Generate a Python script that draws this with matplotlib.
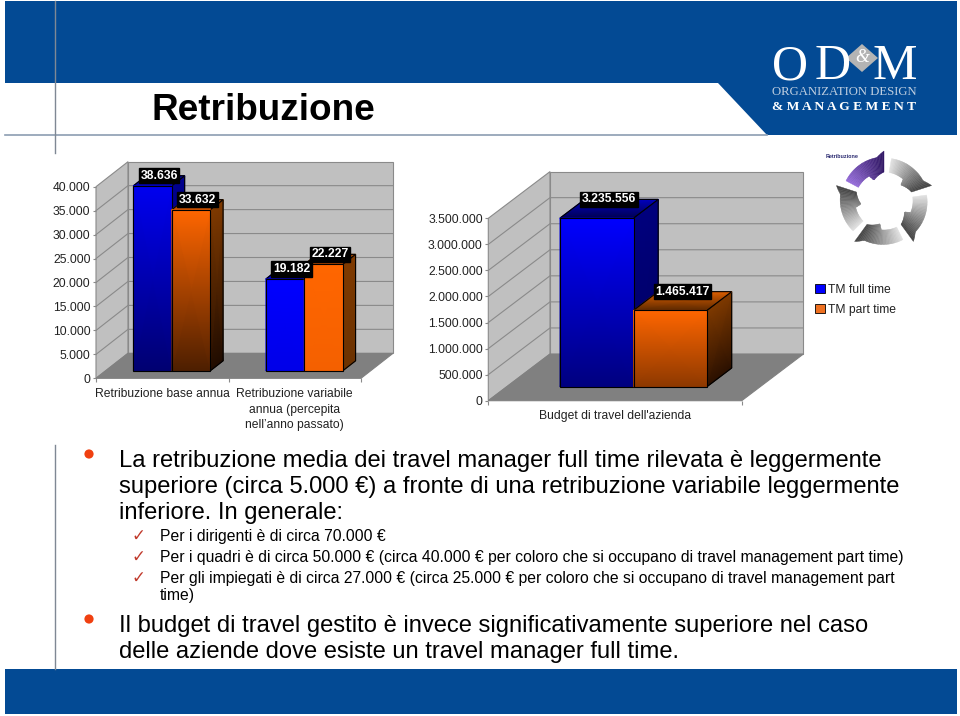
import matplotlib
matplotlib.use('Agg')
import matplotlib.pyplot as plt
import numpy as np
from matplotlib.colors import LinearSegmentedColormap
from matplotlib.patches import Polygon, Circle, Patch
from matplotlib.ticker import FuncFormatter

plt.rcParams['font.family'] = ['Liberation Sans', 'DejaVu Sans']

W, H = 960, 716

# left chart
pay_categories = ['Retribuzione base annua',
                  'Retribuzione variabile\nannua (percepita\nnell\u2019anno passato)']
pay_full_time = [38636, 19182]
pay_part_time = [33632, 22227]
pay_ticks = [0, 5000, 10000, 15000, 20000, 25000, 30000, 35000, 40000]

# right chart
budget_categories = ['Budget di travel dell\'azienda']
budget_full_time = [3235556]
budget_part_time = [1465417]
budget_ticks = [0, 500000, 1000000, 1500000, 2000000, 2500000, 3000000, 3500000]

series_names = ['TM full time', 'TM part time']

title = 'Retribuzione'
big_lines_1 = ['La retribuzione media dei travel manager full time rilevata è leggermente',
               'superiore (circa 5.000 €) a fronte di una retribuzione variabile leggermente',
               'inferiore. In generale:']
small_lines = ['Per i dirigenti è di circa 70.000 €',
               'Per i quadri è di circa 50.000 € (circa 40.000 € per coloro che si occupano di travel management part time)',
               'Per gli impiegati è di circa 27.000 € (circa 25.000 € per coloro che si occupano di travel management part',
               'time)']
big_lines_2 = ['Il budget di travel gestito è invece significativamente superiore nel caso',
               'delle aziende dove esiste un travel manager full time.']

NAVY = '#034a94'
WALL = '#c0c0c0'
FLOOR = '#808080'
GRID = '#8a8a8a'
BLUE = '#0000ff'

# (front top, front bottom, side top, side bottom, top back, top front)
BLUE_DEEP = ('#0000f0', '#000070', '#000090', '#00004a', '#000090', '#0000b0')
ORANGE_DEEP = ('#ff6600', '#4c1e00', '#803a00', '#200c00', '#a04800', '#c85000')
BLUE_FLAT = ('#0000ff', '#0000e8', '#000090', '#00007a', '#0000a0', '#0000d0')
ORANGE_FLAT = ('#ff6600', '#f46000', '#7f3a00', '#6c3200', '#a04800', '#d85800')
BLUE_TALL = ('#0000ff', '#00007e', '#00007e', '#000060', '#0000c0', '#000050')
ORANGE_TALL = ('#ff6600', '#8c3800', '#7f3a00', '#2a1000', '#e06000', '#5a2800')


def px_axes(fig, x0, x1, y_bottom, y_top):
    return fig.add_axes([x0 / W, 1 - y_bottom / H, (x1 - x0) / W, (y_bottom - y_top) / H])


def shaded(ax, corners, top_color, bottom_color):
    # corners: upper left, upper right, lower left, lower right
    xs = np.array([[corners[2][0], corners[3][0]], [corners[0][0], corners[1][0]]])
    ys = np.array([[corners[2][1], corners[3][1]], [corners[0][1], corners[1][1]]])
    cmap = LinearSegmentedColormap.from_list('f', [bottom_color, top_color])
    mesh = ax.pcolormesh(xs, ys, np.array([[0.0, 0.0], [1.0, 1.0]]), shading='gouraud',
                         cmap=cmap, vmin=0, vmax=1, zorder=5)
    mesh.set_clip_on(False)
    ax.add_patch(Polygon([corners[0], corners[1], corners[3], corners[2]], closed=True,
                         fill=False, edgecolor='black', lw=0.8, zorder=5, clip_on=False))


def draw_bar(ax, x, w, value, dx, dv, style):
    def pt(px, v, d):
        return (px + d * dx, v + d * dv)
    f_tl, f_tr = pt(x, value, 0.3), pt(x + w, value, 0.3)
    f_bl, f_br = pt(x, 0, 0.3), pt(x + w, 0, 0.3)
    b_tl, b_tr = pt(x, value, 0.7), pt(x + w, value, 0.7)
    b_br = pt(x + w, 0, 0.7)
    shaded(ax, (f_tr, b_tr, f_br, b_br), style[2], style[3])
    shaded(ax, (b_tl, b_tr, f_tl, f_tr), style[4], style[5])
    shaded(ax, (f_tl, f_tr, f_bl, f_br), style[0], style[1])
    lx, _ = pt(x + w / 2, value, 0.5)
    _, ly = pt(x, value, 0.7)
    ax.text(lx, ly, f'{value:,.0f}'.replace(',', '.'), color='white', fontsize=8.7,
            fontweight='bold', ha='center', va='center', zorder=9, clip_on=False,
            bbox=dict(facecolor='black', edgecolor='black', pad=1.2))


def draw_chart(ax, categories, full, part, ticks, dx, dv, styles):
    n = len(categories)
    top = ticks[-1]
    ax.set_facecolor('none')
    for s in ax.spines.values():
        s.set_visible(False)

    ax.add_patch(Polygon([(0, 0), (dx, dv), (dx, top + dv), (0, top)], closed=True,
                         facecolor=WALL, edgecolor=GRID, lw=0.8, clip_on=False, zorder=1))
    ax.add_patch(Polygon([(dx, dv), (n + dx, dv), (n + dx, top + dv), (dx, top + dv)], closed=True,
                         facecolor=WALL, edgecolor=GRID, lw=0.8, clip_on=False, zorder=1))
    ax.add_patch(Polygon([(0, 0), (n, 0), (n + dx, dv), (dx, dv)], closed=True,
                         facecolor=FLOOR, edgecolor=FLOOR, lw=0.8, clip_on=False, zorder=2))
    for t in ticks[1:-1]:
        ax.plot([0, dx, n + dx], [t, t + dv, t + dv], color=GRID, lw=0.8, zorder=3, clip_on=False)

    w = 0.29
    for i in range(n):
        draw_bar(ax, i + 0.21, w, full[i], dx, dv, styles[i][0])
        draw_bar(ax, i + 0.21 + w, w, part[i], dx, dv, styles[i][1])

    ax.set_xlim(0, n)
    ax.set_ylim(0, top)
    ax.set_yticks(ticks)
    ax.yaxis.set_major_formatter(FuncFormatter(lambda v, p: f'{v:,.0f}'.replace(',', '.')))
    ax.set_xticks([i + 0.5 for i in range(n)])
    ax.set_xticklabels(categories, linespacing=1.4)
    ax.set_xticks(range(n + 1), minor=True)
    ax.tick_params(axis='x', which='major', length=0, labelsize=8.7, pad=7, colors='#222222')
    ax.tick_params(axis='x', which='minor', length=3, width=0.8, color=GRID)
    ax.tick_params(axis='y', length=2, width=0.8, color=GRID, labelsize=8.7, labelcolor='#222222', pad=2)


def ring_point(cx, cy, angle, r):
    a = np.radians(angle)
    return (cx + r * np.cos(a), cy - r * np.sin(a))


def draw_cycle(bg, cx, cy):
    # five swept arrows round a ring, first one purple
    n = 30
    sweep = 62
    for k in range(5):
        start = 152 - 72 * k
        for j in range(n):
            t0, t1 = j / n, (j + 1) / n
            if k == 0:
                c = np.array([0.58, 0.42, 0.85]) * (1 - t0) + np.array([0.18, 0.08, 0.38]) * t0
            else:
                c = np.array([0.88, 0.88, 0.88]) * (1 - t0) + np.array([0.25, 0.25, 0.25]) * t0
            pts = [ring_point(cx, cy, start - sweep * t0, np.interp(t0, [0, 0.85, 1], [43, 44, 50])),
                   ring_point(cx, cy, start - sweep * t1, np.interp(t1, [0, 0.85, 1], [43, 44, 50])),
                   ring_point(cx, cy, start - sweep * t1, np.interp(t1, [0, 0.5, 0.58, 1], [29, 29, 23, 29])),
                   ring_point(cx, cy, start - sweep * t0, np.interp(t0, [0, 0.5, 0.58, 1], [29, 29, 23, 29]))]
            bg.add_patch(Polygon(pts, closed=True, facecolor=c, edgecolor=c, lw=0.3, zorder=4))


fig = plt.figure(figsize=(W / 100, H / 100), dpi=100, facecolor='white')

# slide background in pixels
bg = fig.add_axes([0, 0, 1, 1])
bg.set_xlim(0, W)
bg.set_ylim(H, 0)
bg.axis('off')
bg.fill([5, 957, 957, 5], [1, 1, 135, 135], color=NAVY, lw=0)
bg.fill([5, 718, 767, 5], [83, 83, 135, 135], color='white', lw=0)
bg.plot([5, 767], [135, 135], color='#8c9db2', lw=1.2)
bg.plot([54.5, 54.5], [1, 153], color='#7f8894', lw=1)
bg.plot([54.5, 54.5], [445, 669], color='#7f8894', lw=1)
bg.fill([5, 957, 957, 5], [669, 669, 714, 714], color=NAVY, lw=0)

bg.text(152, 120.5, title, fontsize=26.6, fontweight='bold', color='black', va='baseline')

for y, line in zip([466.7, 492.7, 518.5], big_lines_1):
    bg.text(119, y, line, fontsize=17.1, color='black', va='baseline')
for y, line in zip([632, 658.3], big_lines_2):
    bg.text(119, y, line, fontsize=17.1, color='black', va='baseline')
for y, line in zip([541, 561.7, 582.7, 600], small_lines):
    bg.text(160, y, line, fontsize=11.3, color='black', va='baseline')
for y in [541, 561.7, 582.7]:
    bg.text(131, y, '\u2713', fontsize=12, color='#c0392b', va='baseline', family='DejaVu Sans')
for y in [454, 619]:
    bg.add_patch(Circle((89, y), 4.6, facecolor='#f04010', edgecolor='none'))

# logo
bg.text(772, 79, 'O', fontsize=36, family='Liberation Serif', color='white', va='baseline')
bg.text(815, 79, 'D', fontsize=36, family='Liberation Serif', color='white', va='baseline')
bg.text(873, 79, 'M', fontsize=36, family='Liberation Serif', color='white', va='baseline')
bg.fill([862, 878, 862, 846], [44, 58, 72, 58], color='#b4b4b4', lw=0)
bg.text(862, 58, '&', fontsize=13, family='Liberation Serif', style='italic', color='white',
        ha='center', va='center')
bg.text(772, 95, 'ORGANIZATION DESIGN', fontsize=9.15, family='Liberation Serif', color='#c0cfe0', va='baseline')
bg.text(772, 110, '& M A N A G E M E N T', fontsize=9.7, family='Liberation Serif', fontweight='bold',
        color='white', va='baseline')

draw_cycle(bg, 884, 201)
bg.text(826, 157, 'Retribuzione', fontsize=3.9, fontweight='bold', color='#2a2a70', va='center', zorder=5)

ax1 = px_axes(fig, 96, 361, 378.3, 186.7)
ax2 = px_axes(fig, 488.3, 741.7, 400.7, 218.3)

draw_chart(ax1, pay_categories, pay_full_time, pay_part_time, pay_ticks, 0.2415, 5219,
           [(BLUE_DEEP, ORANGE_DEEP), (BLUE_FLAT, ORANGE_FLAT)])
draw_chart(ax2, budget_categories, budget_full_time, budget_part_time, budget_ticks, 0.2435, 896000,
           [(BLUE_TALL, ORANGE_TALL)])

handles = [Patch(facecolor=BLUE, edgecolor='black', lw=0.6),
           Patch(facecolor='#ee7020', edgecolor='black', lw=0.6)]
fig.legend(handles, series_names, loc='upper left', bbox_to_anchor=(813 / W, 1 - 281.5 / H), frameon=False,
           fontsize=8.7, handlelength=0.8, handleheight=0.8, handletextpad=0.25, labelspacing=0.65,
           borderpad=0.2, borderaxespad=0, labelcolor='#222222')

fig.savefig('out.png', dpi=100)
